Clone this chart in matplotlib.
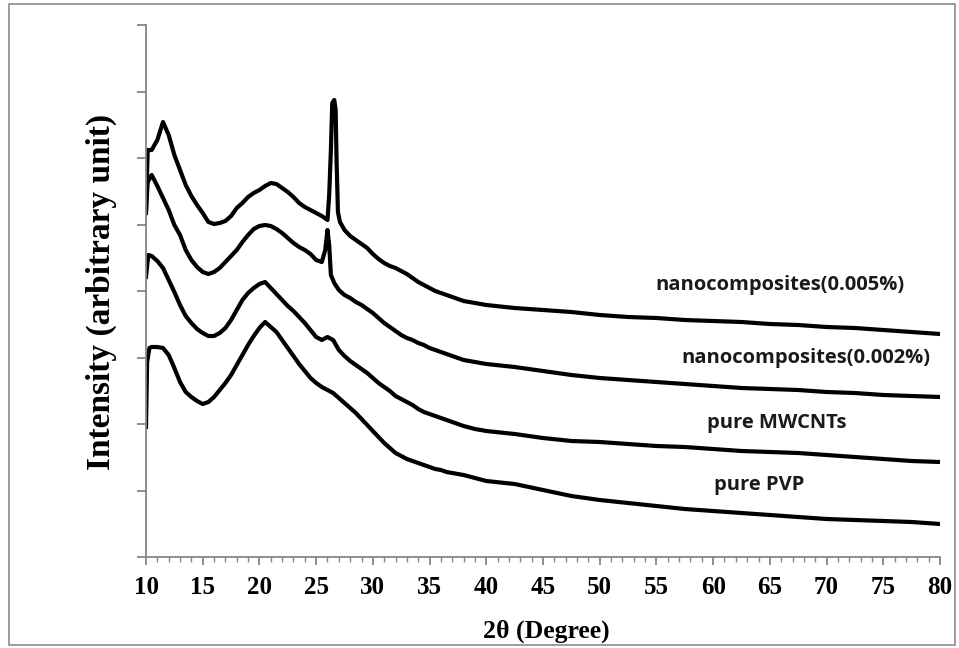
import numpy as np
import matplotlib
matplotlib.use("Agg")
import matplotlib.pyplot as plt
from matplotlib.patches import Rectangle
from matplotlib.ticker import MultipleLocator

# 2theta positions (degree) and intensities (arbitrary unit)
x_005 = [10.0, 10.15, 10.5, 11.0, 11.5, 12.0, 12.5, 13.0, 13.5, 14.0, 14.5, 15.0, 15.5, 16.0, 16.5,
         17.0, 17.5, 18.0, 18.5, 19.0, 19.5, 20.0, 20.5, 21.0, 21.5, 22.0, 22.5, 23.0, 23.5, 24.0,
         24.5, 25.0, 25.5, 26.0, 26.15, 26.3, 26.42, 26.6, 26.72, 26.8, 26.92, 27.1, 27.5, 28.0,
         28.5, 29.0, 29.5, 30.0, 30.5, 31.0, 31.5, 32.0, 32.5, 33.0, 33.5, 34.0, 34.5, 35.0, 35.5,
         36.0, 36.5, 37.0, 37.5, 38.0, 39.0, 40.0, 42.5, 45.0, 47.5, 50.0, 52.5, 55.0, 57.5, 60.0,
         62.5, 65.0, 67.5, 70.0, 72.5, 75.0, 77.5, 80.0]
y_005 = [344, 407, 407, 417, 435, 422, 402, 387, 372, 361, 352, 344, 335, 333, 334,
         336, 341, 349, 354, 360, 364, 367, 371, 374, 373, 369, 365, 360, 354, 350,
         347, 344, 341, 337, 362, 407, 454, 457, 447, 397, 345, 335, 327, 321,
         317, 313, 309, 303, 298, 294, 291, 289, 286, 283, 279, 275, 272, 269, 266,
         264, 262, 260, 258, 256, 254, 252, 249, 247, 245, 242, 240, 239, 237, 236,
         235, 233, 232, 230, 229, 227, 225, 223]

x_002 = [10.0, 10.15, 10.5, 11.0, 11.5, 12.0, 12.5, 13.0, 13.5, 14.0, 14.5, 15.0, 15.5, 16.0, 16.5,
         17.0, 17.5, 18.0, 18.5, 19.0, 19.5, 20.0, 20.5, 21.0, 21.5, 22.0, 22.5, 23.0, 23.5, 24.0,
         24.5, 25.0, 25.5, 25.8, 26.0, 26.15, 26.3, 26.6, 27.0, 27.5, 28.0, 28.5, 29.0, 29.5, 30.0,
         30.5, 31.0, 31.5, 32.0, 32.5, 33.0, 33.5, 34.0, 34.5, 35.0, 35.5, 36.0, 36.5, 37.0, 37.5,
         38.0, 39.0, 40.0, 42.5, 45.0, 47.5, 50.0, 52.5, 55.0, 57.5, 60.0, 62.5, 65.0, 67.5, 70.0,
         72.5, 75.0, 77.5, 80.0]
y_002 = [345, 375, 382, 371, 359, 347, 332, 322, 307, 297, 290, 285, 283, 285, 289,
         295, 301, 307, 315, 322, 328, 331, 332, 331, 328, 324, 319, 314, 310, 307,
         303, 297, 295, 307, 327, 312, 282, 274, 267, 262, 259, 255, 252, 248, 244,
         239, 234, 230, 226, 222, 219, 217, 214, 212, 209, 207, 205, 203, 201, 199,
         197, 195, 193, 190, 186, 182, 179, 177, 175, 173, 171, 169, 168, 167, 165,
         164, 162, 161, 160]

x_cnt = [10.0, 10.2, 10.5, 11.0, 11.5, 12.0, 12.5, 13.0, 13.5, 14.0, 14.5, 15.0, 15.5, 16.0, 16.5,
         17.0, 17.5, 18.0, 18.5, 19.0, 19.5, 20.0, 20.5, 21.0, 21.5, 22.0, 22.5, 23.0, 23.5, 24.0,
         24.5, 25.0, 25.5, 26.0, 26.5, 27.0, 27.5, 28.0, 28.5, 29.0, 29.5, 30.0, 30.5, 31.0, 31.5,
         32.0, 32.5, 33.0, 33.5, 34.0, 34.5, 35.0, 35.5, 36.0, 36.5, 37.0, 37.5, 38.0, 39.0, 40.0,
         42.5, 45.0, 47.5, 50.0, 52.5, 55.0, 57.5, 60.0, 62.5, 65.0, 67.5, 70.0, 72.5, 75.0, 77.5, 80.0]
y_cnt = [280, 302, 301, 296, 289, 277, 265, 252, 241, 234, 228, 224, 221, 221, 224,
         229, 237, 247, 257, 264, 269, 273, 275, 269, 263, 257, 251, 246, 240, 234,
         227, 220, 217, 220, 217, 207, 201, 196, 192, 188, 184, 179, 174, 170, 166,
         161, 158, 155, 152, 148, 145, 143, 141, 139, 137, 135, 133, 131, 128, 126,
         123, 119, 116, 115, 113, 111, 110, 108, 106, 105, 104, 102, 100, 98, 96, 95]

x_pvp = [10.0, 10.1, 10.3, 10.5, 11.0, 11.5, 12.0, 12.5, 13.0, 13.5, 14.0, 14.5, 15.0, 15.5, 16.0,
         16.5, 17.0, 17.5, 18.0, 18.5, 19.0, 19.5, 20.0, 20.5, 21.0, 21.5, 22.0, 22.5, 23.0, 23.5,
         24.0, 24.5, 25.0, 25.5, 26.0, 26.5, 27.0, 27.5, 28.0, 28.5, 29.0, 29.5, 30.0, 30.5, 31.0,
         31.5, 32.0, 32.5, 33.0, 33.5, 34.0, 34.5, 35.0, 35.5, 36.0, 36.5, 37.0, 37.5, 38.0, 39.0,
         40.0, 42.5, 45.0, 47.5, 50.0, 52.5, 55.0, 57.5, 60.0, 62.5, 65.0, 67.5, 70.0, 72.5, 75.0,
         77.5, 80.0]
y_pvp = [130, 195, 209, 210, 210, 209, 202, 189, 175, 165, 160, 156, 153, 155, 160,
         167, 174, 182, 192, 202, 212, 221, 229, 235, 230, 225, 217, 209, 201, 193,
         186, 179, 174, 170, 167, 164, 159, 154, 149, 144, 138, 132, 126, 120, 114,
         109, 104, 101, 98, 96, 94, 92, 90, 88, 87, 85, 84, 83, 82, 79,
         76, 73, 67, 61, 57, 54, 51, 48, 46, 44, 42, 40, 38, 37, 36,
         35, 33]

labels = ["nanocomposites(0.005%)", "nanocomposites(0.002%)", "pure MWCNTs", "pure PVP"]
label_x = [65.9, 68.2, 65.6, 64.1]
label_y = [272, 199, 134, 72]

W, H = 959, 648
fig = plt.figure(figsize=(W / 100, H / 100), dpi=100)
fig.patches.append(Rectangle((9 / W, 3 / H), 946 / W, 641 / H, transform=fig.transFigure,
                             fill=False, edgecolor="#8c8c8c", linewidth=1.2))

ax = fig.add_axes([146 / W, 1 - 557 / H, (940 - 146) / W, (557 - 25) / H])

for xs, ys in [(x_005, y_005), (x_002, y_002), (x_cnt, y_cnt), (x_pvp, y_pvp)]:
    ax.plot(xs, ys, color="black", linewidth=3.0, solid_joinstyle="round")

for t, lx, ly in zip(labels, label_x, label_y):
    ax.text(lx, ly, t, ha="center", va="center", fontsize=14.5, fontweight="bold",
            family="Open Sans", color="#1a1a1a")

ax.set_xlim(10, 80)
ax.set_ylim(0, 532)
ax.set_xticks(np.arange(10, 81, 5))
ax.xaxis.set_minor_locator(MultipleLocator(1))
ax.set_yticks(np.linspace(0, 532, 9))
ax.set_yticklabels([])

for s in ["top", "right"]:
    ax.spines[s].set_visible(False)
for s in ["left", "bottom"]:
    ax.spines[s].set_color("#868686")
    ax.spines[s].set_linewidth(1.3)

ax.tick_params(axis="x", which="major", direction="out", length=6, width=1.3, color="#868686",
               pad=8, labelsize=18)
ax.tick_params(axis="x", which="minor", direction="out", length=3.5, width=1.0, color="#868686")
ax.tick_params(axis="y", which="major", direction="out", length=6.5, width=1.3, color="#868686")
for lab in ax.get_xticklabels():
    lab.set_family("Liberation Serif")
    lab.set_fontweight("bold")

fig.text(546 / W, 1 - 631 / H, "2θ (Degree)", ha="center", va="center",
         family="Liberation Serif", fontweight="bold", fontsize=18.5)
fig.text(101 / W, 1 - 292 / H, "Intensity (arbitrary unit)", ha="center", va="center",
         rotation=90, family="Liberation Serif", fontweight="bold", fontsize=24)

fig.savefig("out.png", dpi=100)
